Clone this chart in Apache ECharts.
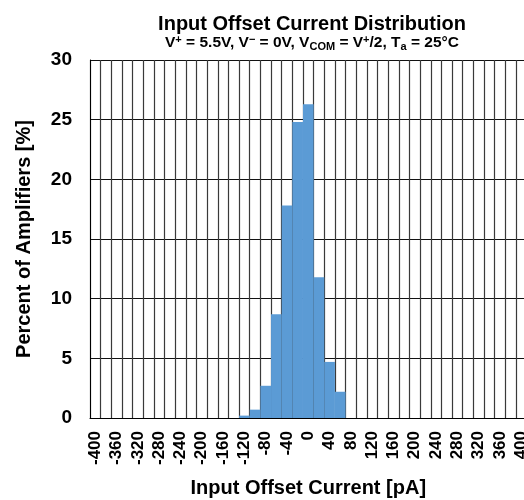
<!DOCTYPE html>
<html>
<head>
<meta charset="utf-8">
<script src="https://cdn.jsdelivr.net/npm/echarts@6/dist/echarts.min.js"></script>
<style>
  html, body { margin: 0; padding: 0; background: #fff; }
  #chart { width: 524px; height: 500px; }
</style>
</head>
<body>
<div id="chart"></div>
<script>
// bins of input offset current [pA], 20 pA wide
const categories = [
  "-400", "-380", "-360", "-340", "-320", "-300", "-280", "-260", "-240", "-220",
  "-200", "-180", "-160", "-140", "-120", "-100", "-80", "-60", "-40", "-20",
  "0", "20", "40", "60", "80", "100", "120", "140", "160", "180",
  "200", "220", "240", "260", "280", "300", "320", "340", "360", "380", "400"
];
// percent of amplifiers in each bin
const percent = [
  0, 0, 0, 0, 0, 0, 0, 0, 0, 0,
  0, 0, 0, 0, 0.2, 0.7, 2.7, 8.7, 17.8, 24.8,
  26.3, 11.8, 4.7, 2.2, 0, 0, 0, 0, 0, 0,
  0, 0, 0, 0, 0, 0, 0, 0, 0, 0, 0
];

const font = "'Liberation Sans', Arial, sans-serif";

var myChart = echarts.init(document.getElementById("chart"));

myChart.setOption({
  animation: false,
  textStyle: { fontFamily: font },
  title: {
    text: "Input Offset Current Distribution",
    subtext: "V{sup|+} = 5.5V, V{sup|\u2212} = 0V, V{sub|COM} = V{sup|+}/2, T{sub|a} = 25°C",
    left: 307,
    top: 9,
    textAlign: "center",
    itemGap: 0,
    textStyle: { fontFamily: font, fontSize: 20, fontWeight: "bold", color: "#000" },
    subtextStyle: {
      fontFamily: font,
      fontSize: 15.5,
      fontWeight: "bold",
      color: "#000",
      rich: {
        sup: { fontFamily: font, fontSize: 11, fontWeight: "bold", color: "#000", padding: [0, 0, 7, 0] },
        sub: { fontFamily: font, fontSize: 11, fontWeight: "bold", color: "#000", padding: [7, 0, 0, 0] }
      }
    }
  },
  grid: { left: 90, top: 60, width: 436.6, height: 358, containLabel: false, outerBoundsMode: "none" },
  xAxis: {
    type: "category",
    data: categories,
    name: "Input Offset Current [pA]",
    nameLocation: "middle",
    nameGap: 60,
    nameTextStyle: { fontSize: 20, fontWeight: "bold", color: "#000" },
    axisLine: { lineStyle: { color: "#000", width: 1 } },
    axisTick: { show: false },
    axisLabel: {
      interval: 1,
      rotate: 90,
      margin: 13,
      fontSize: 17,
      fontWeight: "bold",
      color: "#000"
    },
    splitLine: { show: true, interval: 0, lineStyle: { color: "#3a3a3a", width: 1.2 } }
  },
  yAxis: {
    type: "value",
    min: 0,
    max: 30,
    interval: 5,
    name: "Percent of Amplifiers [%]",
    nameLocation: "middle",
    nameGap: 56,
    nameTextStyle: { fontSize: 20, fontWeight: "bold", color: "#000" },
    axisLine: { show: true, lineStyle: { color: "#000", width: 1 } },
    axisTick: { show: false },
    axisLabel: { margin: 18, fontSize: 19, fontWeight: "bold", color: "#000" },
    splitLine: { lineStyle: { color: "#111", width: 1.2 } }
  },
  series: [
    {
      type: "bar",
      data: percent,
      barCategoryGap: "0%",
      itemStyle: { color: "#5B9BD5" }
    }
  ]
});
</script>
</body>
</html>
